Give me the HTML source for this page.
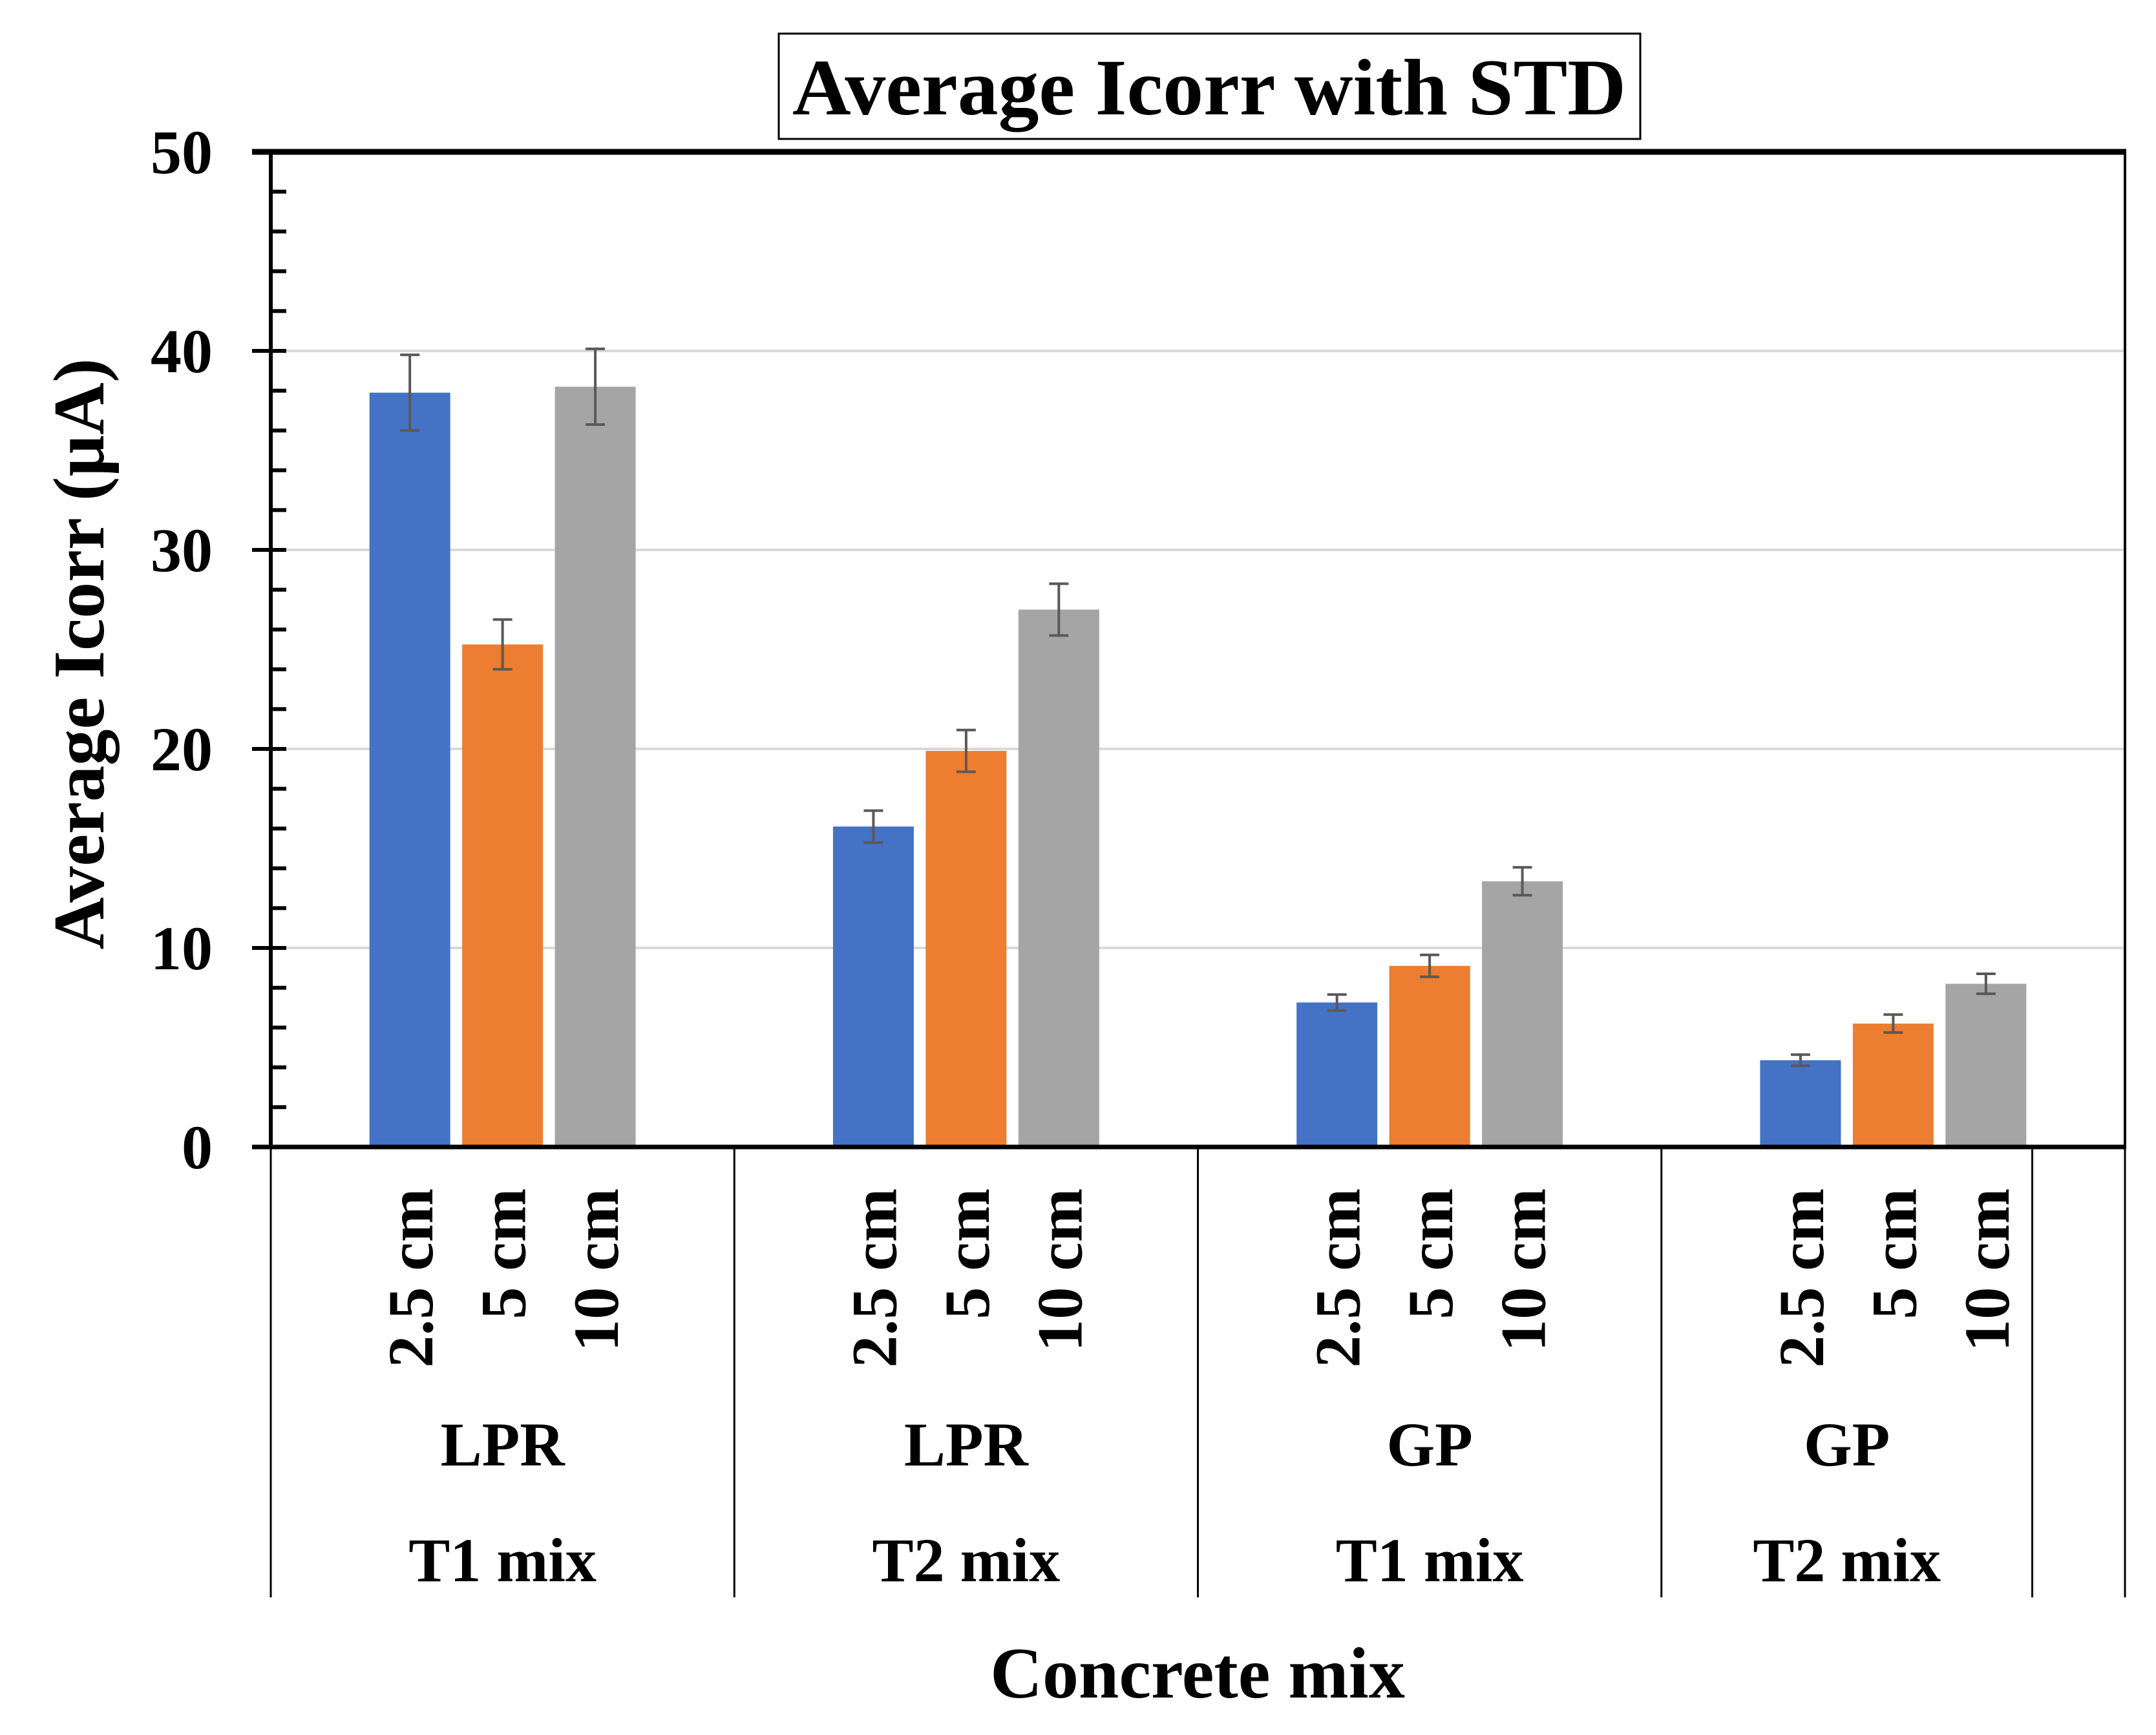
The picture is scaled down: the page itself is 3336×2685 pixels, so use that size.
<!DOCTYPE html>
<html><head><meta charset="utf-8">
<style>
html,body{margin:0;padding:0;background:#fff;}
svg{display:block;}
text{font-family:"Liberation Serif","Times New Roman",serif;font-weight:bold;fill:#000;}
</style></head>
<body>
<svg id="chart" xmlns="http://www.w3.org/2000/svg" width="3336" height="2685" viewBox="0 0 3336 2685">
  <rect x="0" y="0" width="3336" height="2685" fill="#fff"/>
  <g>
    <rect x="1205" y="52" width="1333" height="163" fill="none" stroke="#000" stroke-width="3"/>
    <text x="1871" y="177" font-size="124" text-anchor="middle" textLength="1290" lengthAdjust="spacingAndGlyphs">Average Icorr with STD</text>
  </g>
  <g id="grid"></g>
  <g id="bars"></g>
  <g id="errs"></g>
  <g id="axes"></g>
  <g id="ylabels"></g>
  <g id="xlabels"></g>
  <text transform="translate(160,1012) rotate(-90)" font-size="112" text-anchor="middle" textLength="915" lengthAdjust="spacingAndGlyphs">Average Icorr (µA)</text>
  <text x="1853" y="2627" font-size="112" text-anchor="middle">Concrete mix</text>
</svg>
<script>
const methods = ["LPR","LPR","GP","GP"];
const mixes = ["T1 mix","T2 mix","T1 mix","T2 mix"];
const depths = ["2.5 cm","5 cm","10 cm"];
const series25 = [37.9, 16.1, 7.26, 4.36];
const series5 = [25.25, 19.9, 9.1, 6.2];
const series10 = [38.2, 27.0, 13.35, 8.2];
const err25 = [1.9, 0.8, 0.4, 0.28];
const err5 = [1.25, 1.05, 0.55, 0.45];
const err10 = [1.9, 1.3, 0.7, 0.5];
const yTicks = [0,10,20,30,40,50];

const NS="http://www.w3.org/2000/svg";
const X0=419, X1=3288, Y0=1775, YTOP=235, NCAT=20;
const catW=(X1-X0)/NCAT;
function yScale(v){return Y0-(Y0-YTOP)*v/50;}
function catX(i){return X0+i*catW;}
function mk(tag,attrs,parent){const e=document.createElementNS(NS,tag);for(const k in attrs)e.setAttribute(k,attrs[k]);parent.appendChild(e);return e;}
const gridG=document.getElementById('grid'),barsG=document.getElementById('bars'),errsG=document.getElementById('errs'),axesG=document.getElementById('axes'),ylG=document.getElementById('ylabels'),xlG=document.getElementById('xlabels');

yTicks.forEach(t=>{
  if(t>0&&t<50){const g=mk('line',{x1:X0,x2:X1,y1:yScale(t),y2:yScale(t),stroke:'#d9d9d9','stroke-width':4},gridG);
  
  }
  const tx=mk('text',{x:329,y:yScale(t)+33,'font-size':96,'text-anchor':'end'},ylG);
  tx.textContent=t;
  
  
});

const colors=['#4472C4','#ED7D31','#A5A5A5'];
const allS=[series25,series5,series10], allE=[err25,err5,err10];
const groupStart=[0,5,10,15];
for(let g=0;g<4;g++){
  for(let s=0;s<3;s++){
    const ci=groupStart[g]+1+s;
    const cx=catX(ci)+catW/2, bw=125, v=allS[s][g], e=allE[s][g];
    const r=mk('rect',{x:cx-bw/2,y:yScale(v),width:bw,height:Y0-yScale(v),fill:colors[s]},barsG);
    
    
    const eg=mk('g',{stroke:'#595959','stroke-width':4},errsG);
    
    
    mk('line',{x1:cx,x2:cx,y1:yScale(v+e),y2:yScale(v-e)},eg);
    mk('line',{x1:cx-15,x2:cx+15,y1:yScale(v+e),y2:yScale(v+e)},eg);
    mk('line',{x1:cx-15,x2:cx+15,y1:yScale(v-e),y2:yScale(v-e)},eg);
    const lt=mk('text',{transform:'translate('+(cx+35)+',1839) rotate(-90)','font-size':100,'text-anchor':'end'},xlG);
    lt.textContent=depths[s];
    
    
  }
  const gEnd = g<3 ? groupStart[g+1] : 19;
  const gc=(catX(groupStart[g])+catX(gEnd))/2;
  const m=mk('text',{x:gc,y:2268,'font-size':96,'text-anchor':'middle'},xlG);
  m.textContent=methods[g];
  
  
  const mx=mk('text',{x:gc,y:2447,'font-size':96,'text-anchor':'middle'},xlG);
  mx.textContent=mixes[g];
  
  
}
[0,5,10,15,19,20].forEach(i=>{
  const d=mk('line',{x1:catX(i),x2:catX(i),y1:Y0,y2:2472,stroke:'#000','stroke-width':3},axesG);
  
  
});
const topBorder=mk('line',{x1:390,x2:X1+2,y1:YTOP,y2:YTOP,stroke:'#000','stroke-width':9},axesG);


const rightBorder=mk('line',{x1:X1,x2:X1,y1:YTOP,y2:Y0,stroke:'#000','stroke-width':4},axesG);


const yAxisLine=mk('line',{x1:X0,x2:X0,y1:YTOP,y2:Y0,stroke:'#000','stroke-width':6},axesG);


const xAxisLine=mk('line',{x1:390,x2:X1+2,y1:Y0,y2:Y0,stroke:'#000','stroke-width':7},axesG);


for(let v=0;v<=50;v+=2){
  const major=(v%10===0);
  const tk=mk('line',{x1:major?390:X0,x2:443,y1:yScale(v),y2:yScale(v),stroke:'#000','stroke-width':6},axesG);
  
  
}
</script>
</body></html>
